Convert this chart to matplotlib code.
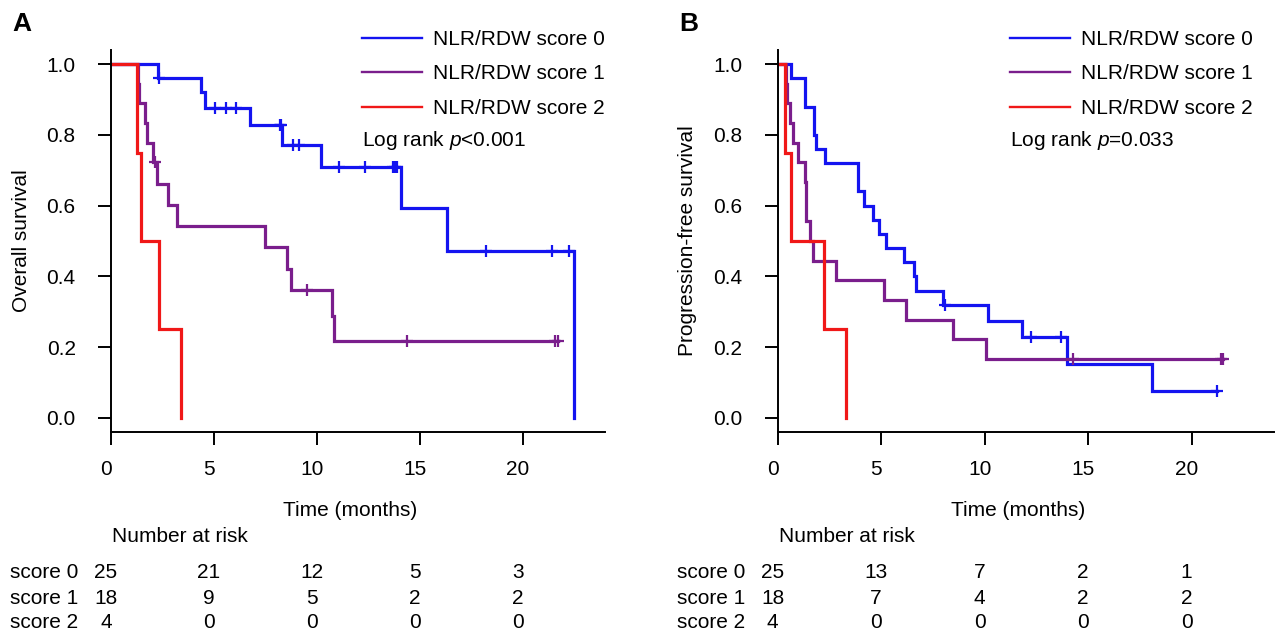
import matplotlib

matplotlib.use("Agg")
import matplotlib.pyplot as plt
import matplotlib.transforms as mtransforms
from matplotlib.lines import Line2D
import numpy as np

# ---- data --------------------------------------------------------------
TIME_TICKS = [0, 5, 10, 15, 20]
SURV_TICKS = [0.0, 0.2, 0.4, 0.6, 0.8, 1.0]
GROUPS = ["NLR/RDW score 0", "NLR/RDW score 1", "NLR/RDW score 2"]
ROW_LABELS = ["score 0", "score 1", "score 2"]

# panel A: overall survival (event times, survival after event, censor times)
A0_TIMES = [2.30, 4.38, 4.57, 6.76, 8.32, 10.17, 14.06, 16.30, 22.46]
A0_SURV = [0.960, 0.920, 0.876, 0.827, 0.772, 0.708, 0.592, 0.472, 0.0]
A0_CENS = [2.35, 5.06, 5.59, 6.08, 8.20, 8.26, 8.84, 9.13, 11.08, 12.35,
           13.70, 13.80, 13.90, 18.20, 21.40, 22.25]
A1_TIMES = [1.33, 1.38, 1.65, 1.73, 2.05, 2.22, 2.78, 3.22, 7.48, 8.53,
            8.72, 10.74, 10.84]
A1_SURV = [0.944, 0.889, 0.833, 0.778, 0.722, 0.662, 0.602, 0.542, 0.482,
           0.421, 0.361, 0.289, 0.217]
A1_CENS = [2.14, 9.50, 14.38, 21.55, 21.70]
A2_TIMES = [1.25, 1.44, 2.35, 3.40]
A2_SURV = [0.75, 0.50, 0.25, 0.0]
A2_CENS = []
A_RISK = [[25, 21, 12, 5, 3], [18, 9, 5, 2, 2], [4, 0, 0, 0, 0]]

# panel B: progression-free survival
B0_TIMES = [0.67, 1.31, 1.77, 1.85, 2.28, 3.89, 4.16, 4.61, 4.90, 5.26,
            6.11, 6.58, 6.71, 8.00, 10.17, 11.83, 13.96, 18.11]
B0_SURV = [0.96, 0.88, 0.80, 0.76, 0.72, 0.64, 0.60, 0.56, 0.52, 0.48,
           0.44, 0.40, 0.36, 0.32, 0.274, 0.229, 0.153, 0.077]
B0_CENS = [8.08, 12.23, 13.68, 21.23]
B1_TIMES = [0.40, 0.45, 0.62, 0.75, 0.99, 1.31, 1.35, 1.39, 1.56, 1.72,
            2.80, 5.15, 6.18, 8.45, 10.05]
B1_SURV = [0.944, 0.889, 0.833, 0.778, 0.722, 0.667, 0.611, 0.556, 0.500,
           0.444, 0.389, 0.333, 0.278, 0.222, 0.167]
B1_CENS = [14.28, 21.40, 21.50]
B2_TIMES = [0.35, 0.67, 2.25, 3.30]
B2_SURV = [0.75, 0.50, 0.25, 0.0]
B2_CENS = []
B_RISK = [[25, 13, 7, 2, 1], [18, 7, 4, 2, 2], [4, 0, 0, 0, 0]]

COLORS = ["#1414F0", "#7A1E8C", "#F01818"]
W, H = 1276, 634


def step_xy(times, surv, cens):
    x = np.concatenate([[0.0], times])
    y = np.concatenate([[1.0], surv])
    end = max([x[-1]] + list(cens))
    return np.append(x, end), np.append(y, y[-1])


def censor_y(times, surv, cens):
    full = np.concatenate([[1.0], surv])
    idx = np.searchsorted(times, cens, side="right")
    return full[idx]


def fx(px):
    return px / W


def fy(py):
    return 1 - py / H


def draw_panel(fig, left_px, px_per_month, curves, risk, ylabel, pval,
               legend_px, letter):
    ax = fig.add_axes([fx(left_px), fy(432), 24 * px_per_month / W, 382 / H])
    for (times, surv, cens), color in zip(curves, COLORS):
        x, y = step_xy(times, surv, cens)
        ax.plot(x, y, drawstyle="steps-post", color=color, lw=2.3,
                solid_joinstyle="miter")
        if cens:
            ax.plot(cens, censor_y(times, surv, cens), ls="none", marker="+",
                    ms=9, mew=1.6, color=color)
    ax.set_xlim(0, 24)
    ax.set_ylim(-0.04, 1.04)
    ax.set_xticks(TIME_TICKS)
    ax.set_yticks(SURV_TICKS)
    ax.set_yticklabels([f"{v:.1f}" for v in SURV_TICKS])
    for side in ["top", "right"]:
        ax.spines[side].set_visible(False)
    for side in ["left", "bottom"]:
        ax.spines[side].set_linewidth(1.4)
    ax.tick_params(axis="both", length=9.4, width=1.4, labelsize=15)
    ax.tick_params(axis="y", pad=16)
    ax.tick_params(axis="x", pad=11)
    shift = mtransforms.ScaledTranslation(-5 / 100, 0, fig.dpi_scale_trans)
    for lbl in ax.get_xticklabels():
        lbl.set_transform(lbl.get_transform() + shift)

    ax.set_ylabel(ylabel, fontsize=15, va="center")
    ax.yaxis.set_label_coords(-90 / (24 * px_per_month), 0.5)
    ax.set_xlabel("Time (months)", fontsize=15, va="center")
    ax.xaxis.set_label_coords(11.63 / 24, (432 - 510) / 382)

    handles = [Line2D([], [], color=c, lw=1.7) for c in COLORS]
    ax.legend(handles, GROUPS, loc="upper left", frameon=False, fontsize=15,
              bbox_to_anchor=(fx(legend_px), fy(30)),
              bbox_transform=fig.transFigure, borderpad=0, borderaxespad=0,
              handlelength=2.9, handletextpad=0.5, labelspacing=0.74)
    fig.text(fx(legend_px), fy(141), pval, fontsize=15, va="center")

    # number at risk table
    trans = mtransforms.blended_transform_factory(ax.transData, fig.transFigure)
    trans = trans + shift
    fig.text(fx(left_px + 1), fy(537), "Number at risk", fontsize=15,
             va="center")
    row_px = [573, 598, 622]
    for label, counts, rp in zip(ROW_LABELS, risk, row_px):
        fig.text(fx(left_px - 101), fy(rp), label, fontsize=15, va="center")
        for t, n in zip(TIME_TICKS, counts):
            ax.text(t, fy(rp), str(n), transform=trans, fontsize=15,
                    ha="center", va="center")

    fig.text(fx(left_px - 89), fy(24), letter, fontsize=19,
             fontweight="bold", ha="center", va="center")
    return ax


def main():
    plt.rcParams["font.family"] = ["Liberation Sans", "DejaVu Sans"]
    plt.rcParams["mathtext.fontset"] = "custom"
    plt.rcParams["mathtext.it"] = "Liberation Sans:italic"
    plt.rcParams["mathtext.rm"] = "Liberation Sans"
    fig = plt.figure(figsize=(W / 100, H / 100), dpi=100)

    curves_a = [(A0_TIMES, A0_SURV, A0_CENS), (A1_TIMES, A1_SURV, A1_CENS),
                (A2_TIMES, A2_SURV, A2_CENS)]
    curves_b = [(B0_TIMES, B0_SURV, B0_CENS), (B1_TIMES, B1_SURV, B1_CENS),
                (B2_TIMES, B2_SURV, B2_CENS)]
    draw_panel(fig, 111, 20.6, curves_a, A_RISK, "Overall survival",
               r"Log rank $\it{p}$<0.001", 362, "A")
    draw_panel(fig, 777.6, 20.7, curves_b, B_RISK,
               "Progression-free survival", r"Log rank $\it{p}$=0.033", 1010,
               "B")
    fig.savefig("out.png", dpi=100)
    plt.close(fig)


if __name__ == "__main__":
    main()
